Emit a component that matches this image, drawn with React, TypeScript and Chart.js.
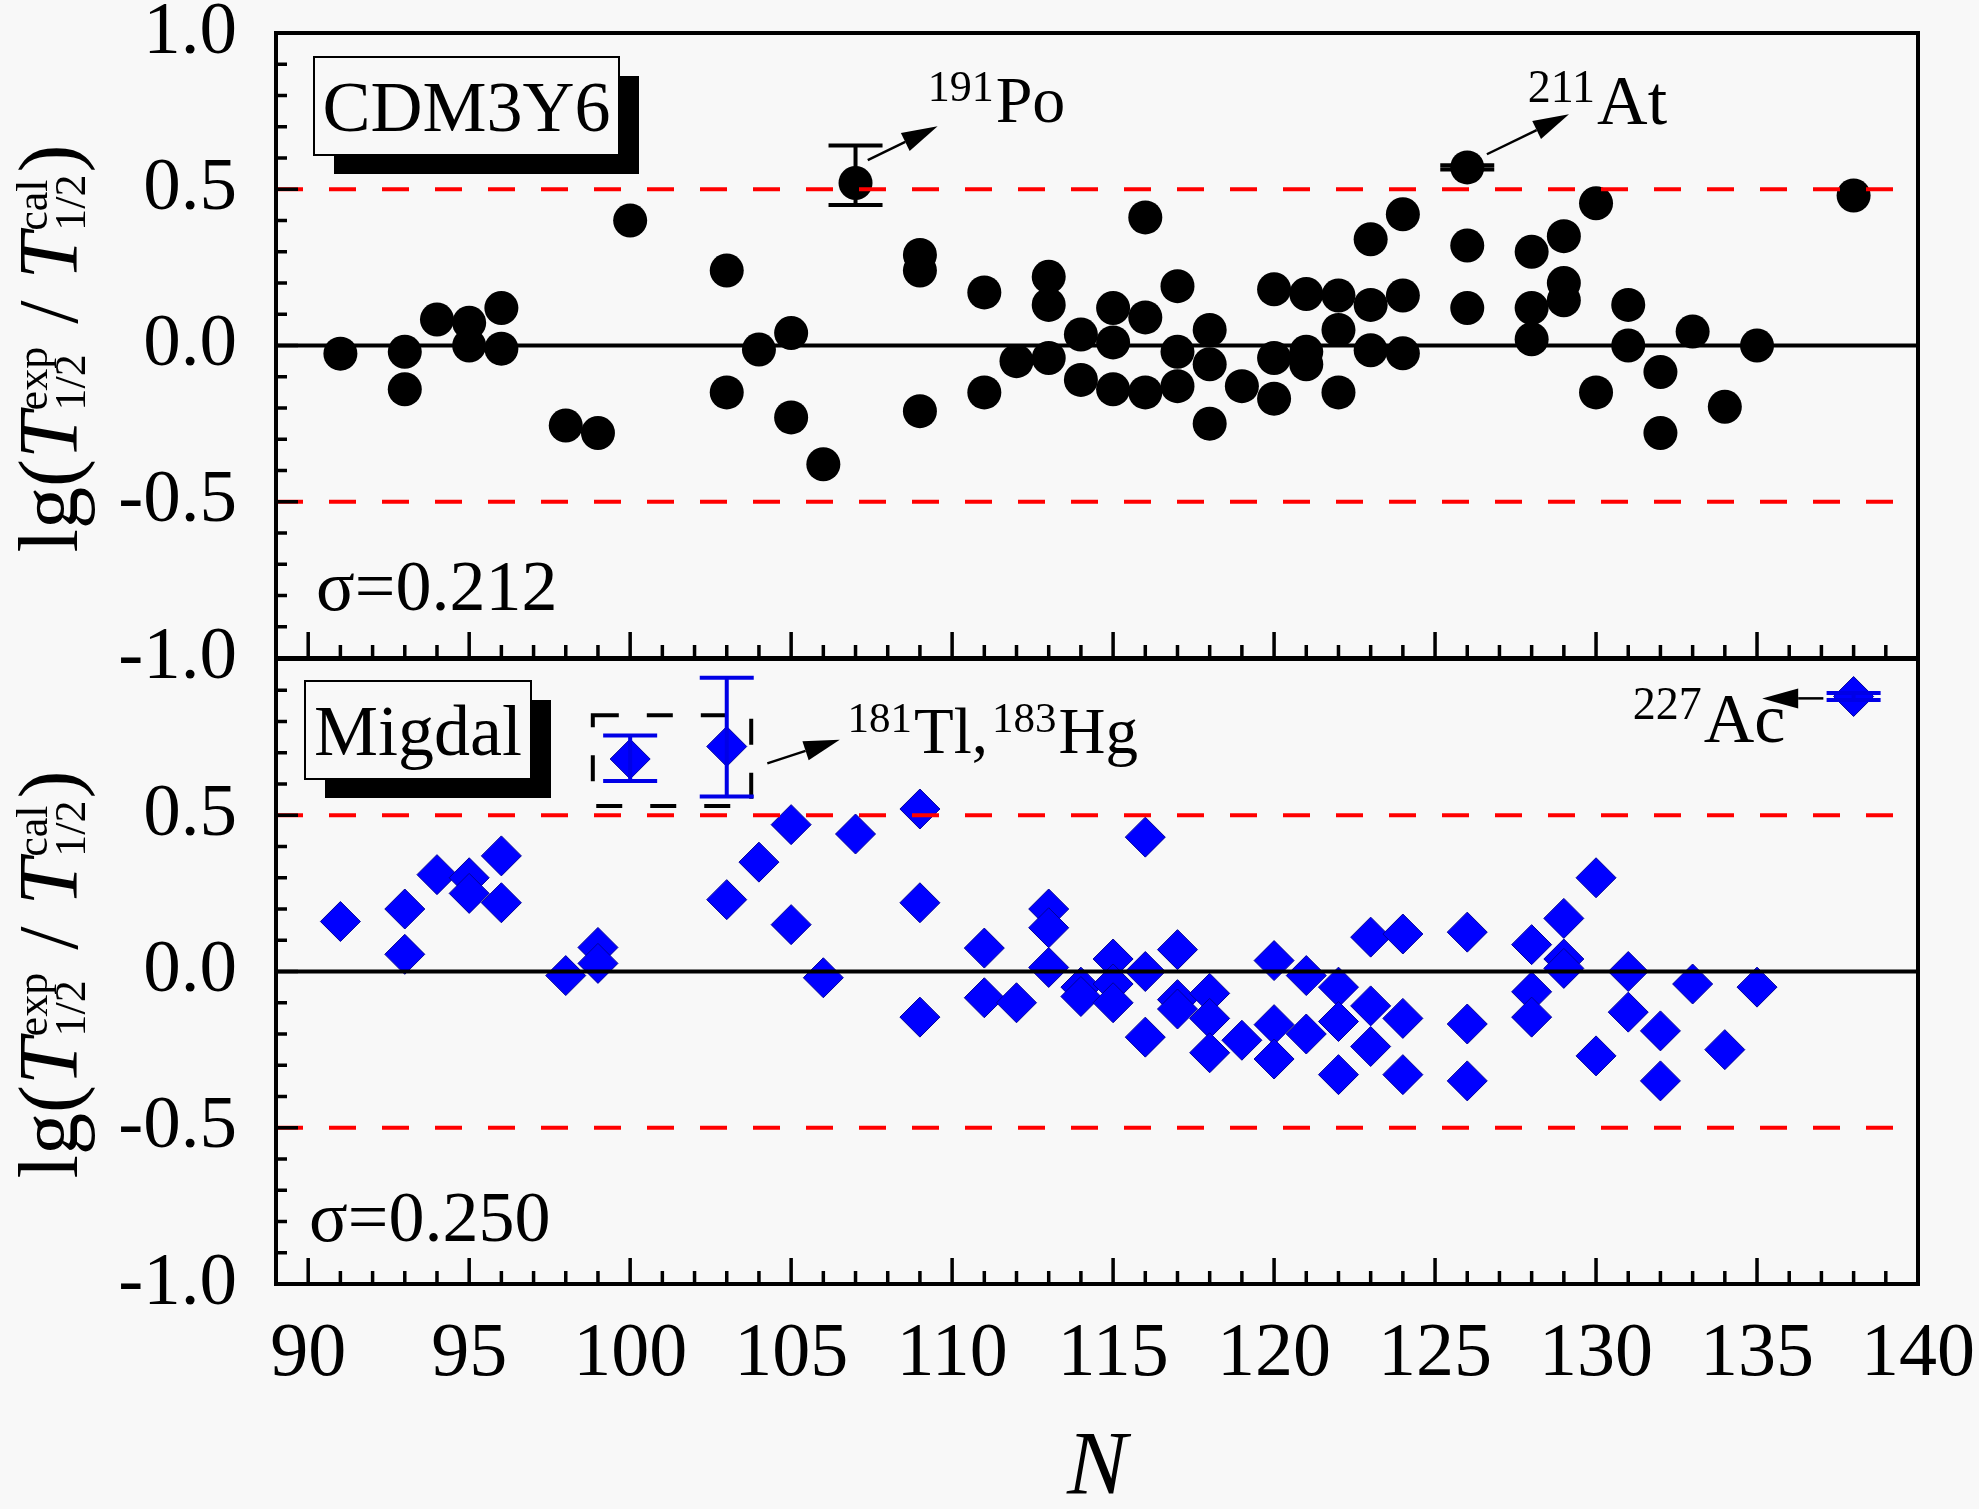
import React, { useEffect, useRef } from 'react';
import { Chart, registerables } from 'chart.js';

Chart.register(...registerables);

const FONT = '"Liberation Serif", "Times New Roman", Times, serif';
const BG = '#F8F8F8';

// upper panel: CDM3Y6
const cdmN = [91, 93, 93, 94, 95, 95, 96, 96, 98, 99, 100, 103, 103, 104, 105, 105, 106, 107, 109, 109, 109, 111, 111, 112, 113, 113, 113, 114, 114, 115, 115, 115, 116, 116, 116, 117, 117, 117, 118, 118, 118, 119, 120, 120, 120, 121, 121, 121, 122, 122, 122, 123, 123, 123, 124, 124, 124, 126, 126, 126, 128, 128, 128, 129, 129, 129, 130, 130, 131, 131, 132, 132, 133, 134, 135, 138];
const cdmV = [-0.026, -0.02, -0.14, 0.083, 0.073, 0.0, 0.12, -0.01, -0.256, -0.28, 0.40, 0.24, -0.15, -0.013, 0.04, -0.23, -0.38, 0.52, 0.29, 0.24, -0.21, 0.17, -0.15, -0.05, 0.22, 0.13, -0.04, 0.035, -0.11, 0.12, 0.01, -0.14, 0.41, 0.09, -0.15, 0.19, -0.02, -0.13, 0.05, -0.06, -0.25, -0.13, 0.18, -0.04, -0.17, 0.165, -0.02, -0.06, 0.16, 0.05, -0.15, 0.34, 0.13, -0.015, 0.42, 0.16, -0.025, 0.57, 0.32, 0.12, 0.30, 0.12, 0.02, 0.35, 0.20, 0.145, 0.455, -0.15, 0.13, 0.0, -0.085, -0.28, 0.045, -0.196, 0.0, 0.48];
const cdmErrN = [107, 126];
const cdmErrLo = [0.45, 0.563];
const cdmErrHi = [0.64, 0.577];

// lower panel: Migdal
const migN = [91, 93, 93, 94, 95, 95, 96, 96, 98, 99, 99, 100, 103, 103, 104, 105, 105, 106, 107, 109, 109, 109, 111, 111, 112, 113, 113, 113, 114, 114, 115, 115, 115, 116, 116, 116, 117, 117, 117, 118, 118, 118, 119, 120, 120, 120, 121, 121, 122, 122, 122, 123, 123, 123, 124, 124, 124, 126, 126, 126, 128, 128, 128, 129, 129, 129, 130, 130, 131, 131, 132, 132, 133, 134, 135, 138];
const migV = [0.16, 0.20, 0.055, 0.31, 0.30, 0.25, 0.37, 0.22, -0.013, 0.077, 0.026, 0.68, 0.72, 0.23, 0.35, 0.47, 0.15, -0.02, 0.44, 0.52, 0.22, -0.146, 0.075, -0.084, -0.10, 0.20, 0.14, 0.013, -0.05, -0.08, 0.04, -0.04, -0.10, 0.43, 0.0, -0.21, 0.07, -0.09, -0.12, -0.07, -0.15, -0.26, -0.22, 0.035, -0.17, -0.28, -0.013, -0.20, -0.05, -0.16, -0.33, 0.11, -0.11, -0.24, 0.12, -0.15, -0.33, 0.126, -0.168, -0.35, 0.086, -0.065, -0.146, 0.17, 0.04, 0.01, 0.30, -0.27, 0.0, -0.13, -0.19, -0.35, -0.04, -0.25, -0.05, 0.88];
const migErrN = [100, 103, 138];
const migErrLo = [0.61, 0.56, 0.869];
const migErrHi = [0.755, 0.94, 0.891];
const migInsetBox = [98.84, 103.76, 0.53, 0.82]; // N from, N to, lg from, lg to

// axes
const xTicks = [90, 95, 100, 105, 110, 115, 120, 125, 130, 135, 140];
const yTicks = [-1, -0.5, 0, 0.5, 1];
const refLines = [-0.5, 0.5];

type Note = { n: number; v: number; size: number; parts: [string, string][] };
type Arrow = [number, number, number, number];

const cdmNotes: Note[] = [
  { n: 109.24, v: 0.715, size: 66, parts: [['191', 'Po']] },
  { n: 127.88, v: 0.708, size: 70, parts: [['211', 'At']] },
];
const cdmArrows: Arrow[] = [
  [107.38, 0.593, 109.55, 0.702],
  [126.61, 0.612, 129.16, 0.74],
];
const migNotes: Note[] = [
  { n: 106.75, v: 0.7, size: 65, parts: [['181', 'Tl,'], ['183', 'Hg']] },
  { n: 131.14, v: 0.736, size: 70, parts: [['227', 'Ac']] },
];
const migArrows: Arrow[] = [
  [104.26, 0.666, 106.51, 0.742],
  [137.06, 0.874, 135.16, 0.874],
];

type PanelCfg = {
  label: string;
  labelBox: [number, number, number, number]; // dx, dy from chart area corner, w, h
  sigma: string;
  sigmaPos: [number, number]; // dx from left, dy up from bottom
  errN: number[];
  errLo: number[];
  errHi: number[];
  errColor: string;
  notes: Note[];
  arrows: Arrow[];
  inset?: number[];
};

function drawYTitle(ctx: CanvasRenderingContext2D, baseX: number, cy: number) {
  const big = `${84}px ${FONT}`;
  const bigI = `italic ${84}px ${FONT}`;
  const small = `${44}px ${FONT}`;
  const segs: { t?: string; f?: string; st?: [string, string] }[] = [
    { t: 'lg(', f: big },
    { t: 'T', f: bigI },
    { st: ['exp', '1/2'] },
    { t: ' / ', f: big },
    { t: 'T', f: bigI },
    { st: ['cal', '1/2'] },
    { t: ')', f: big },
  ];
  ctx.save();
  const widths = segs.map((s) => {
    if (s.st) {
      ctx.font = small;
      return Math.max(ctx.measureText(s.st[0]).width, ctx.measureText(s.st[1]).width) + 4;
    }
    ctx.font = s.f!;
    return ctx.measureText(s.t!).width;
  });
  const total = widths.reduce((p, c) => p + c, 0);
  ctx.translate(baseX, cy);
  ctx.rotate(-Math.PI / 2);
  ctx.fillStyle = '#000';
  ctx.textAlign = 'left';
  ctx.textBaseline = 'alphabetic';
  let u = -total / 2;
  segs.forEach((s, i) => {
    if (s.st) {
      ctx.font = small;
      ctx.fillText(s.st[0], u + 2, -30);
      ctx.fillText(s.st[1], u + 2, 8);
    } else {
      ctx.font = s.f!;
      ctx.fillText(s.t!, u, 0);
    }
    u += widths[i];
  });
  ctx.restore();
}

function drawArrow(ctx: CanvasRenderingContext2D, x1: number, y1: number, x2: number, y2: number) {
  const ang = Math.atan2(y2 - y1, x2 - x1);
  const len = 36;
  const hw = 10;
  const bx = x2 - Math.cos(ang) * len;
  const by = y2 - Math.sin(ang) * len;
  ctx.save();
  ctx.strokeStyle = '#000';
  ctx.fillStyle = '#000';
  ctx.lineWidth = 2.5;
  ctx.beginPath();
  ctx.moveTo(x1, y1);
  ctx.lineTo(bx, by);
  ctx.stroke();
  ctx.beginPath();
  ctx.moveTo(x2, y2);
  ctx.lineTo(bx + Math.sin(ang) * hw, by - Math.cos(ang) * hw);
  ctx.lineTo(bx - Math.sin(ang) * hw, by + Math.cos(ang) * hw);
  ctx.closePath();
  ctx.fill();
  ctx.restore();
}

function makeDecor(cfg: PanelCfg) {
  return {
    id: 'panelDecor',
    afterDatasetsDraw(chart: Chart) {
      const { ctx, chartArea: a } = chart;
      const x = chart.scales.x;
      const y = chart.scales.y;
      ctx.save();

      // zero line and +/-0.5 guides
      ctx.strokeStyle = '#000';
      ctx.lineWidth = 4;
      const y0 = y.getPixelForValue(0);
      ctx.beginPath();
      ctx.moveTo(a.left, y0);
      ctx.lineTo(a.right, y0);
      ctx.stroke();
      ctx.strokeStyle = '#FF0000';
      ctx.setLineDash([27, 26]);
      refLines.forEach((v) => {
        const py = y.getPixelForValue(v);
        ctx.beginPath();
        ctx.moveTo(a.left, py);
        ctx.lineTo(a.right - 18, py);
        ctx.stroke();
      });

      // dashed inset frame
      if (cfg.inset) {
        const [n1, n2, v1, v2] = cfg.inset;
        const l = x.getPixelForValue(n1);
        const r = x.getPixelForValue(n2);
        const t = y.getPixelForValue(v2);
        const b = y.getPixelForValue(v1);
        ctx.strokeStyle = '#000';
        ctx.lineWidth = 4;
        ctx.setLineDash([26, 28]);
        ctx.strokeRect(l, t, r - l, b - t);
      }
      ctx.setLineDash([]);

      // error bars
      ctx.strokeStyle = cfg.errColor;
      ctx.lineWidth = 4;
      cfg.errN.forEach((n, i) => {
        const px = x.getPixelForValue(n);
        const lo = y.getPixelForValue(cfg.errLo[i]);
        const hi = y.getPixelForValue(cfg.errHi[i]);
        ctx.beginPath();
        ctx.moveTo(px, lo);
        ctx.lineTo(px, hi);
        ctx.moveTo(px - 27, lo);
        ctx.lineTo(px + 27, lo);
        ctx.moveTo(px - 27, hi);
        ctx.lineTo(px + 27, hi);
        ctx.stroke();
      });

      // frame
      ctx.strokeStyle = '#000';
      ctx.lineWidth = 4;
      ctx.strokeRect(a.left, a.top, a.right - a.left, a.bottom - a.top);

      // inward ticks
      ctx.lineWidth = 3.5;
      ctx.beginPath();
      for (let k = -10; k <= 10; k++) {
        const py = y.getPixelForValue(k / 10);
        const len = k % 5 === 0 ? 22 : 11;
        ctx.moveTo(a.left, py);
        ctx.lineTo(a.left + len, py);
      }
      for (let n = 89; n <= 140; n++) {
        const px = x.getPixelForValue(n);
        const len = n % 5 === 0 ? 26 : 13;
        ctx.moveTo(px, a.bottom);
        ctx.lineTo(px, a.bottom - len);
      }
      ctx.stroke();

      // label box with shadow
      const [bx, by, bw, bh] = cfg.labelBox;
      const L = a.left + bx;
      const T = a.top + by;
      ctx.fillStyle = '#000';
      ctx.fillRect(L + 20, T + 19, bw, bh);
      ctx.fillStyle = BG;
      ctx.fillRect(L, T, bw, bh);
      ctx.lineWidth = 2;
      ctx.strokeRect(L, T, bw, bh);
      ctx.fillStyle = '#000';
      ctx.font = `72px ${FONT}`;
      ctx.textAlign = 'center';
      ctx.textBaseline = 'alphabetic';
      ctx.fillText(cfg.label, L + bw / 2, T + 74);

      // sigma
      ctx.textAlign = 'left';
      ctx.fillText(cfg.sigma, a.left + cfg.sigmaPos[0], a.bottom - cfg.sigmaPos[1]);

      // annotations
      cfg.notes.forEach((nt) => {
        let px = x.getPixelForValue(nt.n);
        const base = y.getPixelForValue(nt.v);
        const supSize = Math.round(nt.size * 0.66);
        nt.parts.forEach(([sup, main]) => {
          ctx.font = `${supSize}px ${FONT}`;
          ctx.fillText(sup, px, base - nt.size * 0.32);
          px += ctx.measureText(sup).width + 2;
          ctx.font = `${nt.size}px ${FONT}`;
          ctx.fillText(main, px, base);
          px += ctx.measureText(main).width + 4;
        });
      });
      cfg.arrows.forEach(([n1, v1, n2, v2]) => {
        drawArrow(ctx, x.getPixelForValue(n1), y.getPixelForValue(v1), x.getPixelForValue(n2), y.getPixelForValue(v2));
      });

      // y-axis title
      drawYTitle(ctx, 77, (a.top + a.bottom) / 2 + 3);
      ctx.restore();
    },
  };
}

const yTickFmt = (hideTop: boolean) => (v: number | string) => {
  const n = Number(v);
  if (hideTop && n === 1) return '';
  return n.toFixed(1);
};

export default function App() {
  const topRef = useRef<HTMLCanvasElement | null>(null);
  const botRef = useRef<HTMLCanvasElement | null>(null);

  useEffect(() => {
    if (!topRef.current || !botRef.current) return;

    const yScale = (hideTop: boolean) => ({
      type: 'linear' as const,
      min: -1,
      max: 1,
      afterFit: (s: any) => {
        // fixed axis width; labels may overhang the plot edges
        s.width = 276;
        s.paddingTop = 0;
        s.paddingBottom = 0;
      },
      afterBuildTicks: (s: any) => {
        s.ticks = yTicks.map((v) => ({ value: v }));
      },
      grid: { display: false },
      border: { display: false },
      ticks: {
        color: '#000',
        padding: 31,
        font: { family: FONT, size: 75, lineHeight: 0.8 },
        callback: yTickFmt(hideTop),
      },
    });

    const top = new Chart(topRef.current, {
      type: 'scatter',
      data: {
        datasets: [
          {
            data: cdmN.map((n, i) => ({ x: n, y: cdmV[i] })),
            pointStyle: 'circle',
            pointRadius: 17,
            pointHoverRadius: 17,
            backgroundColor: '#000',
            borderWidth: 0,
          },
        ],
      },
      options: {
        animation: false,
        responsive: false,
        devicePixelRatio: 1,
        events: [],
        layout: { autoPadding: false, padding: { left: 0, right: 61, top: 33, bottom: 42 } },
        plugins: { legend: { display: false }, tooltip: { enabled: false } },
        scales: {
          x: { type: 'linear', min: 89, max: 140, display: false },
          y: yScale(false) as any,
        },
      },
      plugins: [
        makeDecor({
          label: 'CDM3Y6',
          labelBox: [38, 24, 305, 98],
          sigma: 'σ=0.212',
          sigmaPos: [40, 48],
          errN: cdmErrN,
          errLo: cdmErrLo,
          errHi: cdmErrHi,
          errColor: '#000',
          notes: cdmNotes,
          arrows: cdmArrows,
        }),
      ],
    });

    const bot = new Chart(botRef.current, {
      type: 'scatter',
      data: {
        datasets: [
          {
            data: migN.map((n, i) => ({ x: n, y: migV[i] })),
            pointStyle: 'rectRot',
            pointRadius: 20,
            pointHoverRadius: 20,
            backgroundColor: '#0000FF',
            borderColor: '#000099',
            borderWidth: 1,
          },
        ],
      },
      options: {
        animation: false,
        responsive: false,
        devicePixelRatio: 1,
        events: [],
        layout: { autoPadding: false, padding: { left: 0, right: 61, top: 59, bottom: 0 } },
        plugins: { legend: { display: false }, tooltip: { enabled: false } },
        scales: {
          x: {
            type: 'linear',
            min: 89,
            max: 140,
            afterFit: (s: any) => {
              s.height = 225;
              s.paddingLeft = 0;
              s.paddingRight = 0;
            },
            afterBuildTicks: (s: any) => {
              s.ticks = xTicks.map((v) => ({ value: v }));
            },
            grid: { display: false },
            border: { display: false },
            ticks: {
              color: '#000',
              padding: 25,
              maxRotation: 0,
              font: { family: FONT, size: 76, lineHeight: 1 },
            },
            title: {
              display: true,
              text: 'N',
              color: '#000',
              font: { family: FONT, size: 90, style: 'italic', lineHeight: 1 },
              padding: { top: 0, bottom: -6 },
            },
          },
          y: yScale(true) as any,
        },
      },
      plugins: [
        makeDecor({
          label: 'Migdal',
          labelBox: [29, 22, 226, 98],
          sigma: 'σ=0.250',
          sigmaPos: [33, 43],
          errN: migErrN,
          errLo: migErrLo,
          errHi: migErrHi,
          errColor: '#0000E6',
          notes: migNotes,
          arrows: migArrows,
          inset: migInsetBox,
        }),
      ],
    });

    return () => {
      top.destroy();
      bot.destroy();
    };
  }, []);

  return (
    <div style={{ position: 'absolute', left: 0, top: 0, width: 1979, height: 1509, background: BG, overflow: 'hidden' }}>
      <canvas ref={topRef} width={1979} height={700} style={{ position: 'absolute', left: 0, top: 0 }} />
      <canvas ref={botRef} width={1979} height={909} style={{ position: 'absolute', left: 0, top: 600 }} />
    </div>
  );
}
